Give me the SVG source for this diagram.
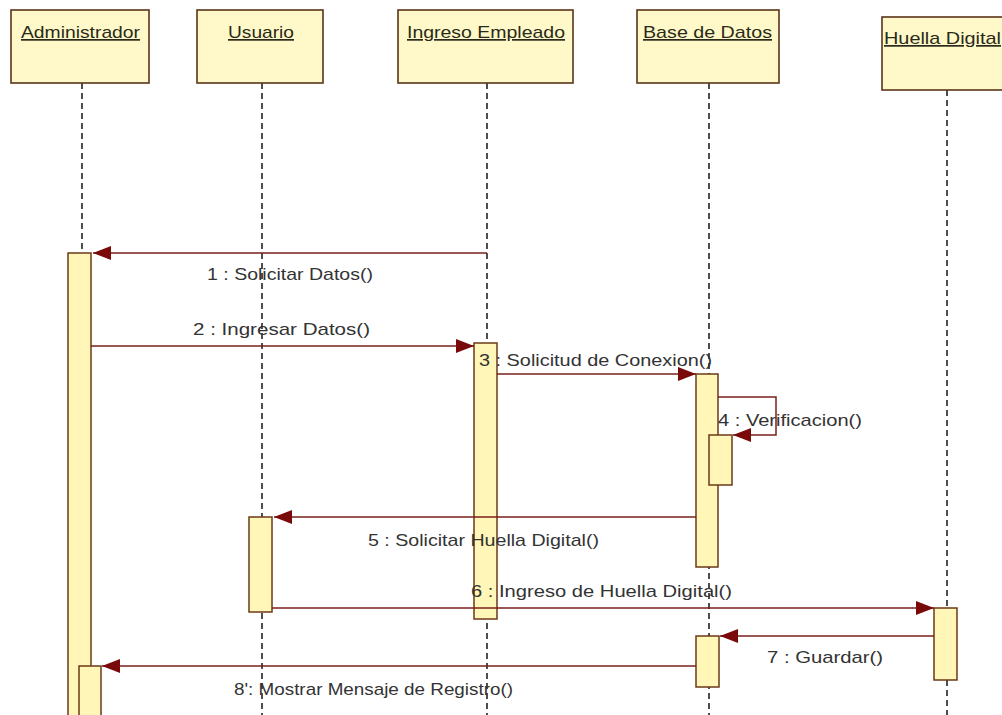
<svg xmlns="http://www.w3.org/2000/svg" width="1002" height="715" viewBox="0 0 1002 715">
<style>
.box{fill:#FFF9C9;stroke:#5a3418;stroke-width:1.6}
.bar{fill:#FFF6B8;stroke:#6b3a18;stroke-width:1.5}
.life{stroke:#222;stroke-width:1.6;stroke-dasharray:6 4;fill:none}
.hdr{font-family:"Liberation Sans","DejaVu Sans",sans-serif;font-size:17px;fill:#2a2a1a;text-decoration:underline}
.msg{stroke:#7a1f1a;stroke-width:1.5;fill:none;marker-end:url(#ah)}
.lbl{font-family:"Liberation Sans","DejaVu Sans",sans-serif;font-size:17px;fill:#333}
</style>
<defs>
<marker id="ah" markerUnits="userSpaceOnUse" markerWidth="19" markerHeight="15" refX="18" refY="7.5" orient="auto">
<path d="M0,0.5 L18,7.5 L0,14.5 z" fill="#7a0a0a"/>
</marker>
</defs>
<rect width="1002" height="715" fill="#fff"/>

<g id="administrador">
<line class="life" x1="82" y1="83" x2="82" y2="715"/>
<rect class="box" x="11" y="10" width="138" height="73"/>
<text class="hdr" x="21" y="38" textLength="119" lengthAdjust="spacingAndGlyphs">Administrador</text>
<rect class="bar" x="68" y="253" width="23" height="470"/>
<rect class="bar" x="79" y="666" width="22" height="60"/>
</g>

<g id="usuario">
<line class="life" x1="262" y1="83" x2="262" y2="715"/>
<rect class="box" x="197" y="10" width="126" height="73"/>
<text class="hdr" x="228" y="38" textLength="66" lengthAdjust="spacingAndGlyphs">Usuario</text>
<rect class="bar" x="249" y="517" width="23" height="95"/>
</g>

<g id="ingreso-empleado">
<line class="life" x1="487" y1="83" x2="487" y2="715"/>
<rect class="box" x="398" y="10" width="175" height="73"/>
<text class="hdr" x="407" y="38" textLength="158" lengthAdjust="spacingAndGlyphs">Ingreso Empleado</text>
<rect class="bar" x="474" y="343" width="23" height="276"/>
</g>

<g id="base-de-datos">
<line class="life" x1="709" y1="83" x2="709" y2="715"/>
<rect class="box" x="637" y="10" width="142" height="73"/>
<text class="hdr" x="643" y="38" textLength="129" lengthAdjust="spacingAndGlyphs">Base de Datos</text>
<rect class="bar" x="696" y="374" width="22" height="193"/>
<rect class="bar" x="709" y="435" width="23" height="50"/>
<rect class="bar" x="696" y="636" width="23" height="51"/>
</g>

<g id="huella-digital">
<line class="life" x1="947" y1="90" x2="947" y2="715"/>
<rect class="box" x="882" y="17" width="130" height="73"/>
<text class="hdr" x="884" y="44" textLength="117" lengthAdjust="spacingAndGlyphs">Huella Digital</text>
<rect class="bar" x="934" y="608" width="23" height="72"/>
</g>

<g id="connectors">
<line class="msg" x1="487" y1="253" x2="93" y2="253"/>
<line class="msg" x1="91" y1="346" x2="474" y2="346"/>
<line class="msg" x1="497" y1="374" x2="696" y2="374"/>
<path class="msg" d="M718,397 H776 V435 H733"/>
<line class="msg" x1="696" y1="517" x2="274" y2="517"/>
<line class="msg" x1="272" y1="608" x2="934" y2="608"/>
<line class="msg" x1="934" y1="636" x2="720" y2="636"/>
<line class="msg" x1="696" y1="666" x2="102" y2="666"/>
</g>

<g id="labels">
<text class="lbl" x="207" y="280" textLength="166" lengthAdjust="spacingAndGlyphs">1 : Solicitar Datos()</text>
<text class="lbl" x="193" y="335" textLength="177" lengthAdjust="spacingAndGlyphs">2 : Ingresar Datos()</text>
<text class="lbl" x="479" y="366" textLength="233" lengthAdjust="spacingAndGlyphs">3 : Solicitud de Conexion()</text>
<text class="lbl" x="718" y="426" textLength="144" lengthAdjust="spacingAndGlyphs">4 : Verificacion()</text>
<text class="lbl" x="368" y="546" textLength="231" lengthAdjust="spacingAndGlyphs">5 : Solicitar Huella Digital()</text>
<text class="lbl" x="471" y="597" textLength="261" lengthAdjust="spacingAndGlyphs">6 : Ingreso de Huella Digital()</text>
<text class="lbl" x="767" y="663" textLength="116" lengthAdjust="spacingAndGlyphs">7 : Guardar()</text>
<text class="lbl" x="234" y="695" textLength="279" lengthAdjust="spacingAndGlyphs">8': Mostrar Mensaje de Registro()</text>
</g>
</svg>
